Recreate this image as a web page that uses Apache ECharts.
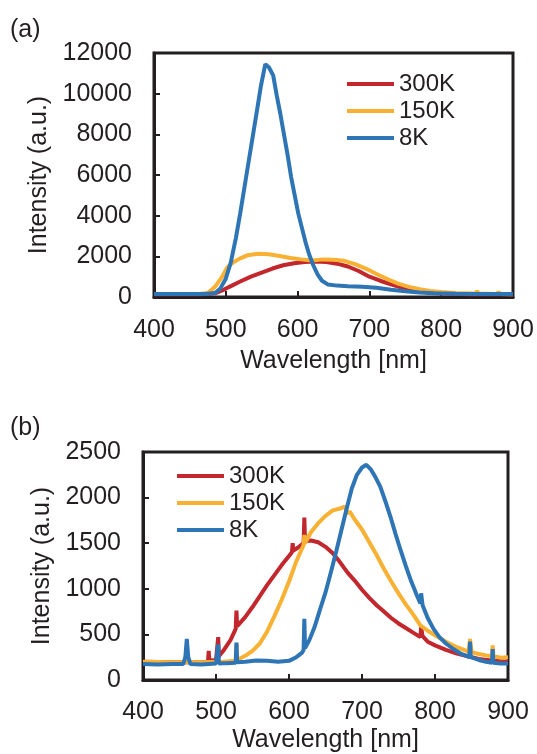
<!DOCTYPE html>
<html>
<head>
<meta charset="utf-8">
<script src="https://cdn.jsdelivr.net/npm/echarts@6/dist/echarts.min.js"></script>
<style>
  html, body { margin: 0; padding: 0; background: #fff; }
  #chart { width: 537px; height: 754px; }
</style>
</head>
<body>
<div id="chart"></div>
<script>
// series names
const seriesNames = ['300K', '150K', '8K'];
const xTicks = [400, 500, 600, 700, 800, 900];

// (a) spectra: [wavelength nm, intensity a.u.]
const a300K = [[400,140],[420,140],[440,140],[460,140],[475,145],[485,180],[495,320],[505,500],[520,760],[535,1000],
  [550,1200],[565,1400],[580,1560],[595,1660],[610,1720],[625,1740],[640,1720],[655,1640],[670,1500],[685,1280],
  [700,1000],[715,800],[730,620],[745,460],[760,340],[775,260],[790,200],[810,160],[840,140],[870,135],[900,130]];
const a150K = [[400,150],[440,150],[465,155],[475,200],[485,500],[495,1000],[502,1450],[510,1700],[520,1900],[530,2050],
  [545,2130],[560,2100],[575,2020],[590,1920],[605,1850],[620,1800],[635,1850],[650,1830],[665,1780],[680,1620],
  [695,1400],[710,1130],[725,880],[740,660],[755,500],[770,380],[785,300],[800,250],[820,200],[848,170],[850,300],
  [852,170],[878,150],[880,260],[882,150],[900,140]];
const a8K = [[400,150],[440,150],[470,150],[485,200],[492,400],[500,900],[507,1700],[514,2900],[520,4100],[526,5400],
  [532,6700],[538,8000],[544,9300],[549,10400],[555,11450],[560,11300],[566,10900],[571,9900],[576,9000],[581,8000],
  [586,7000],[591,5900],[596,5000],[601,4100],[606,3400],[611,2700],[616,2100],[622,1550],[628,1100],[634,800],
  [642,620],[655,560],[670,530],[690,500],[710,450],[730,360],[750,280],[770,220],[790,180],[820,160],[860,150],[900,150]];

// (b) spectra
const b300K = [[400,200],[440,195],[480,195],[489,200],[490,320],[491,210],[500,220],[502,240],[503,470],[504,260],
  [510,320],[520,440],[527,560],[528,760],[529,590],[540,690],[550,800],[560,920],[570,1040],[580,1150],[590,1260],
  [600,1360],[604,1400],[605,1500],[606,1420],[612,1450],[620,1500],[621,1780],[622,1520],[630,1530],[640,1510],
  [650,1460],[660,1390],[670,1290],[680,1180],[690,1090],[700,990],[710,900],[720,820],[730,750],[740,680],[750,620],
  [760,570],[770,520],[780,470],[781,580],[782,600],[783,480],[790,420],[800,380],[815,330],[830,290],[845,260],
  [860,230],[880,210],[900,200]];
const b150K = [[400,200],[440,195],[480,195],[510,200],[527,210],[528,400],[529,220],[540,265],[550,320],[560,400],
  [570,530],[580,700],[590,880],[600,1080],[610,1300],[620,1480],[621,1590],[622,1500],[630,1620],[640,1720],[650,1800],
  [660,1860],[670,1880],[676,1900],[682,1820],[683,1850],[690,1760],[700,1650],[710,1510],[720,1370],[730,1220],
  [740,1080],[750,950],[760,830],[770,720],[780,600],[790,540],[800,490],[815,420],[830,360],[846,310],[848,450],
  [850,305],[860,285],[870,270],[878,260],[879,380],[880,260],[890,245],[900,250]];
const b8K = [[400,175],[420,170],[440,175],[455,175],[458,250],[460,450],[462,250],[465,175],[480,170],[490,175],
  [500,180],[502,175],[503,390],[504,180],[515,185],[527,190],[528,410],[529,195],[540,200],[555,215],[570,210],
  [585,200],[600,210],[610,250],[618,300],[620,330],[621,670],[622,350],[628,440],[635,580],[642,760],[650,960],
  [658,1200],[665,1420],[672,1650],[679,1880],[686,2100],[693,2250],[700,2330],[706,2360],[712,2310],[718,2230],
  [725,2120],[732,1960],[739,1790],[746,1600],[753,1420],[760,1250],[767,1090],[774,950],[780,840],[781,950],
  [782,960],[783,820],[790,680],[798,560],[806,470],[815,400],[825,340],[835,290],[847,250],[848,420],[849,250],
  [860,220],[870,200],[878,190],[879,340],[880,190],[890,180],[900,180]];

const colors = ['#C1272D', '#F8B133', '#2E75B6'];
const ink = '#231F20';
const font = 'Liberation Sans, Arial, sans-serif';

const chart = echarts.init(document.getElementById('chart'), null, { renderer: 'canvas' });

function xAxisFor(gridIndex, labelMargin, nameGap) {
    return {
        gridIndex,
        type: 'value',
        min: 400,
        max: 900,
        interval: 100,
        name: 'Wavelength [nm]',
        nameLocation: 'middle',
        nameGap,
        nameTextStyle: { fontFamily: font, fontSize: 25, color: ink },
        axisLine: { show: true, lineStyle: { color: ink, width: 3 } },
        axisTick: { show: true, inside: true, length: 6, lineStyle: { color: ink, width: 2 } },
        axisLabel: { fontFamily: font, fontSize: 25, color: ink, margin: labelMargin },
        splitLine: { show: false },
    };
}

function yAxisFor(gridIndex, max, interval, nameGap) {
    return {
        gridIndex,
        type: 'value',
        min: 0,
        max,
        interval,
        name: 'Intensity (a.u.)',
        nameLocation: 'middle',
        nameGap,
        nameTextStyle: { fontFamily: font, fontSize: 25, color: ink },
        axisLine: { show: true, lineStyle: { color: ink, width: 3 } },
        axisTick: { show: true, inside: true, length: 6, lineStyle: { color: ink, width: 2 } },
        axisLabel: { fontFamily: font, fontSize: 25, color: ink, margin: 22, formatter: v => String(v) },
        splitLine: { show: false },
    };
}

function lineSeries(name, data, idx, axisIdx) {
    return {
        name,
        type: 'line',
        xAxisIndex: axisIdx,
        yAxisIndex: axisIdx,
        data,
        symbol: 'none',
        lineStyle: { color: colors[idx], width: 4 },
        itemStyle: { color: colors[idx] },
        z: 3 + idx,
    };
}

function legendFor(left, top) {
    return {
        orient: 'vertical',
        left,
        top,
        icon: 'rect',
        itemWidth: 47,
        itemHeight: 4,
        itemGap: 3,
        data: seriesNames,
        textStyle: { fontFamily: font, fontSize: 24, color: ink, padding: [0, 0, 0, 0] },
    };
}

const option = {
    animation: false,
    backgroundColor: '#fff',
    grid: [
        { left: 154, top: 53, width: 359, height: 244, show: true, borderColor: ink, borderWidth: 3 },
        { left: 143, top: 452, width: 365, height: 233, show: true, borderColor: ink, borderWidth: 3 },
    ],
    xAxis: [xAxisFor(0, 21, 52), xAxisFor(1, 20, 48)],
    yAxis: [yAxisFor(0, 12000, 2000, 95), yAxisFor(1, 2500, 500, 78)],
    legend: [legendFor(342, 67), legendFor(172, 459)],
    graphic: [
        { type: 'text', left: 10, top: 18, style: { text: '(a)', font: '25px ' + font, fill: ink } },
        { type: 'text', left: 10, top: 416, style: { text: '(b)', font: '25px ' + font, fill: ink } },
    ],
    series: [
        lineSeries('300K', a300K, 0, 0),
        lineSeries('150K', a150K, 1, 0),
        lineSeries('8K', a8K, 2, 0),
        lineSeries('300K', b300K, 0, 1),
        lineSeries('150K', b150K, 1, 1),
        lineSeries('8K', b8K, 2, 1),
    ],
};

chart.setOption(option);
</script>
</body>
</html>
